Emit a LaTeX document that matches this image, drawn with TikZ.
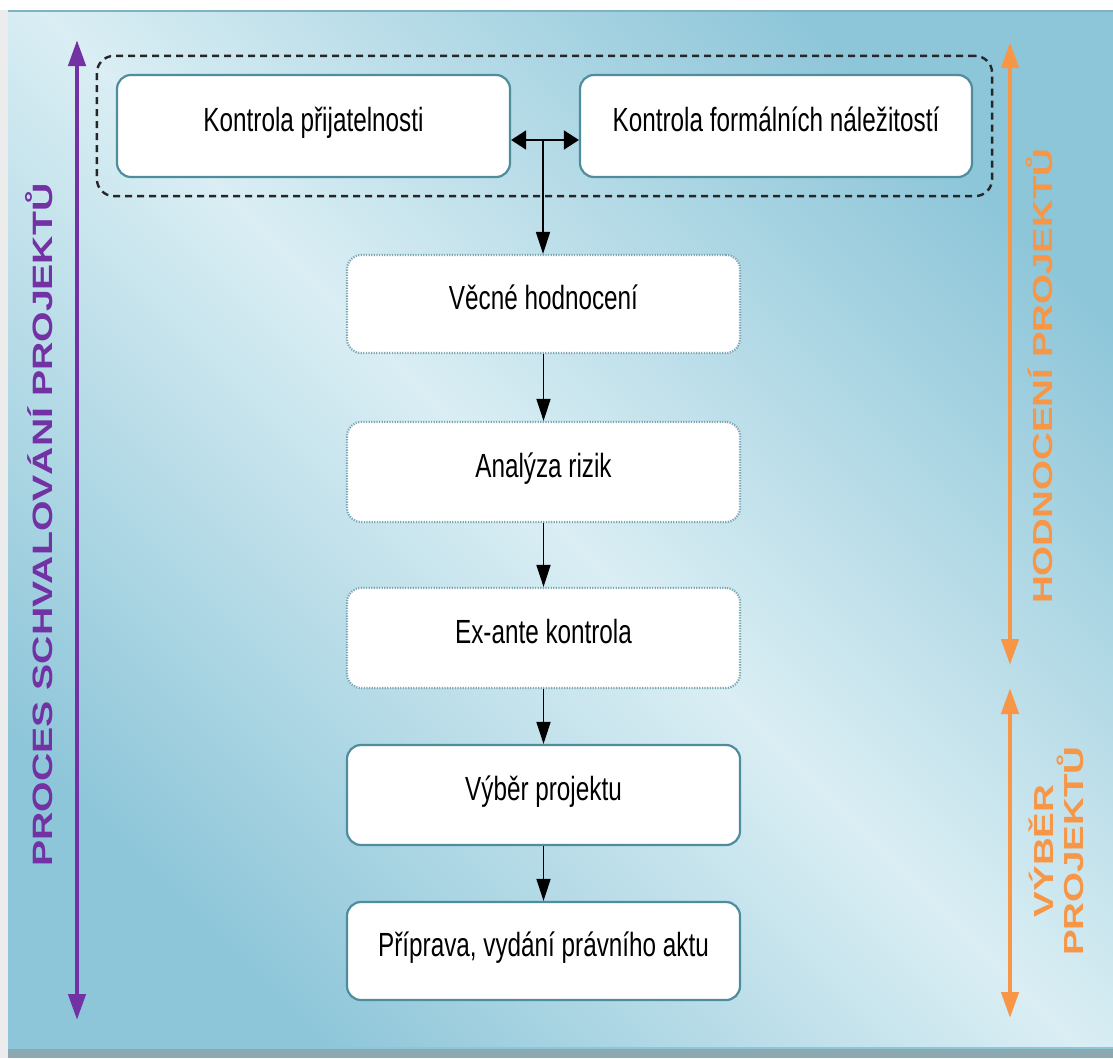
\documentclass[tikz,border=0pt]{standalone}
\usepackage{fontspec}
\setmainfont{Liberation Sans}
\newfontfamily\boxfont[FakeStretch=0.725]{Liberation Sans}
\newfontfamily\sidefont[FakeStretch=1.4]{Liberation Sans}
\usetikzlibrary{arrows.meta,fit,calc}
\definecolor{bgdark}{HTML}{8EC6D9}
\definecolor{bglight}{HTML}{DAEEF4}
\definecolor{boxline}{HTML}{4F8D9D}
\definecolor{dotline}{HTML}{7FA8B5}
\definecolor{procpurple}{HTML}{7232A3}
\definecolor{evalorange}{HTML}{F79646}
\definecolor{bottomgrey}{HTML}{8CA8B0}
\definecolor{edgegrey}{HTML}{ECECEC}
\begin{document}
\begin{tikzpicture}[x=1pt,y=-1pt,
  solidbox/.style={draw=boxline, line width=2.2pt, fill=white, rounded corners=14pt,
    minimum width=393pt, inner sep=0pt, text height=24pt, text depth=14pt,
    font=\boxfont\fontsize{33.5}{40}\selectfont},
  dotbox/.style={solidbox, draw=dotline, dash pattern=on 1.3pt off 1.3pt},
  groupbox/.style={draw=black!85, line width=2.4pt, dash pattern=on 7pt off 5pt,
    rounded corners=17pt, inner xsep=19pt, inner ysep=18pt},
  flow/.style={draw=black, line width=1.8pt, -{Triangle[length=22pt,width=14pt]}},
  both/.style={draw=black, line width=1.8pt,
    {Triangle[length=15pt,width=19pt]}-{Triangle[length=15pt,width=19pt]}},
  phase/.style={line width=4.5pt, {Triangle[length=26pt,width=17pt]}-{Triangle[length=26pt,width=17pt]}},
  sidelabel/.style={rotate=90, inner sep=0pt, align=center},
]
\useasboundingbox (0,0) rectangle (1113,1058);
% background
\fill[white] (0,0) rectangle (1113,1058);
\fill[edgegrey] (0,10) rectangle (8,1058);
\fill[shading=axis, top color=bgdark, bottom color=bgdark, middle color=bglight,
  shading angle=-45] (8,10) rectangle (1113,1048);
\draw[color=bgdark!90!black, line width=2pt] (8,11) -- (1113,11);
\fill[bottomgrey] (8,1048) rectangle (1113,1058);
\draw[color=bgdark, line width=2pt] (8,1048) -- (1113,1048);

% boxes
\node[solidbox, minimum height=102pt] (k1) at (313.5,126) {Kontrola přijatelnosti};
\node[solidbox, minimum height=102pt, minimum width=392pt] (k2) at (776,126) {Kontrola formálních náležitostí};
\node[groupbox, fit=(k1)(k2)] (grp) {};
\node[dotbox, minimum height=98pt] (k3) at (543.5,304) {Věcné hodnocení};
\node[dotbox, minimum height=100pt] (k4) at (543.5,472) {Analýza rizik};
\node[dotbox, minimum height=100pt] (k5) at (543.5,638) {Ex-ante kontrola};
\node[solidbox, minimum height=100pt] (k6) at (543.5,795) {Výběr projektu};
\node[solidbox, minimum height=98pt] (k7) at (543.5,951) {Příprava, vydání právního aktu};

% connectors
\coordinate (ja) at ($(k1.east)+(0,14)$);
\coordinate (jb) at ($(k2.west)+(0,14)$);
\coordinate (j) at (543,140);
\draw[both] (ja) -- (jb);
\draw[flow] (j) -- (j |- k3.north);
\draw[flow] (k3.south) -- (k4.north);
\draw[flow] (k4.south) -- (k5.north);
\draw[flow] (k5.south) -- (k6.north);
\draw[flow] (k6.south) -- (k7.north);

% side phase arrows
\coordinate (pt) at (77,40);
\coordinate (pb) at (77,1020);
\coordinate (ot) at (1010,42);
\coordinate (om) at (1010,665);
\coordinate (on) at (1010,688);
\coordinate (ob) at (1010,1018);
\draw[phase, procpurple] (pt) -- (pb);
\draw[phase, evalorange] (ot) -- (om);
\draw[phase, evalorange] (on) -- (ob);

% side labels
\node[sidelabel, anchor=base, text=procpurple,
  font=\sidefont\bfseries\fontsize{28}{30}\selectfont] (lp) at (52,525)
  {PROCES SCHVALOVÁNÍ PROJEKTŮ};
\node[sidelabel, anchor=base, text=evalorange,
  font=\sidefont\bfseries\fontsize{27.5}{30}\selectfont] (lh) at (1052,376)
  {HODNOCENÍ PROJEKTŮ};
\node[sidelabel, text=evalorange,
  font=\sidefont\bfseries\fontsize{27.5}{30}\selectfont] (lv) at (1056,851)
  {VÝBĚR\\PROJEKTŮ};
\end{tikzpicture}
\end{document}
